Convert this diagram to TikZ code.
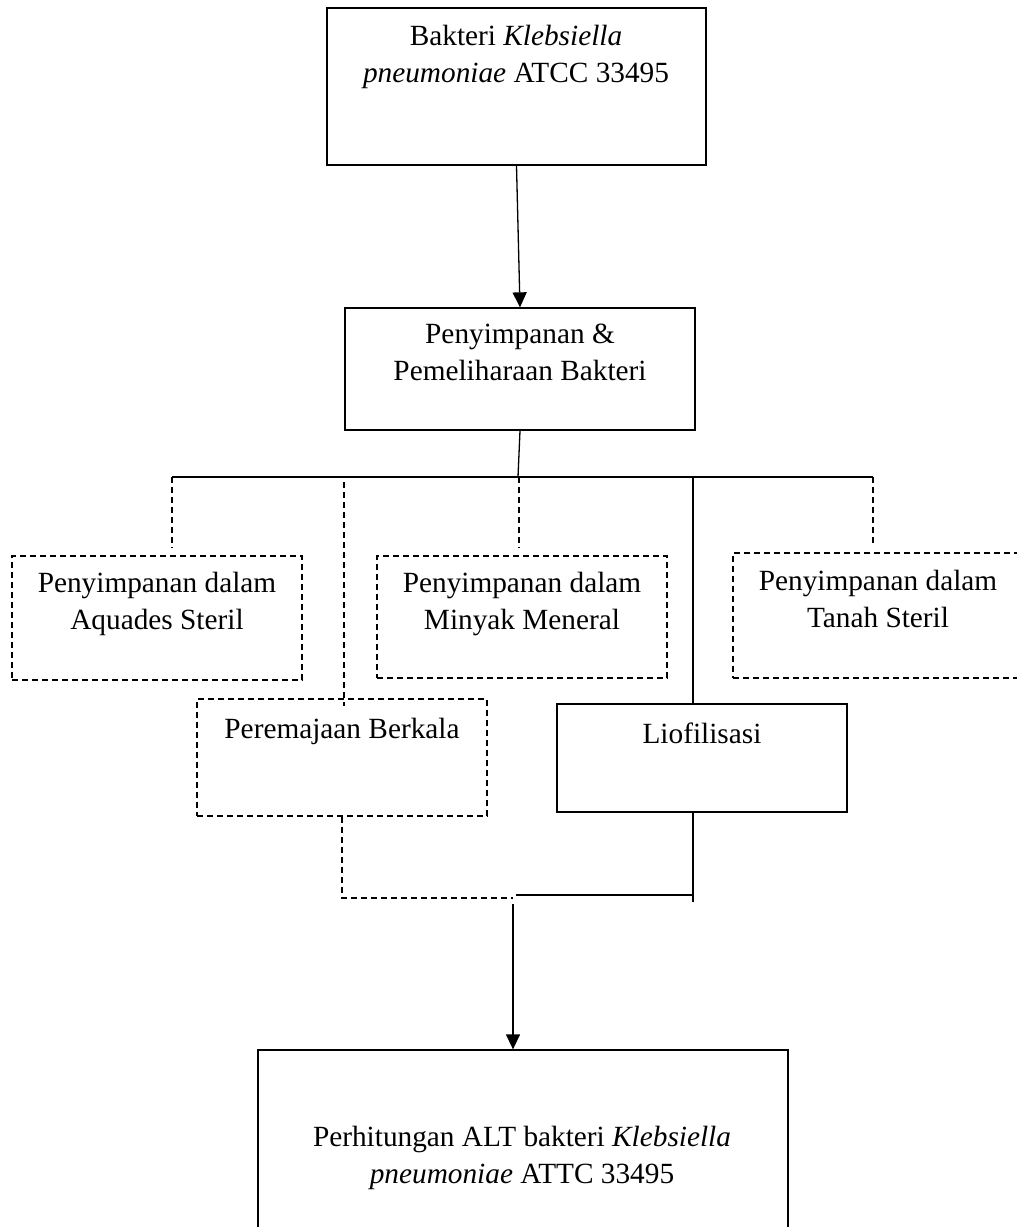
\documentclass[tikz,border=0pt]{standalone}
\usepackage{fontspec}
\setmainfont{Liberation Serif}
\usetikzlibrary{arrows.meta}

\tikzset{
  box/.style={draw, line width=1.3pt, inner sep=0pt},
  dbox/.style={box, dash pattern=on 6pt off 4pt},
  txt/.style={font=\fontsize{29.3}{36.5}\selectfont, align=center, anchor=base, inner sep=0pt},
  ln/.style={line width=1.3pt},
  dln/.style={ln, dash pattern=on 6pt off 4pt},
  arr/.style={ln, -{Triangle[length=15pt,width=14pt]}}
}

\begin{document}
\begin{tikzpicture}[x=1pt,y=-1pt]
    \useasboundingbox (0,0) rectangle (1017,1227);
    \clip (0,0) rectangle (1017,1227);

    % boxes
    \node[box, minimum width=379, minimum height=157] (bak) at (516.5,86.5) {};
    \node[box, minimum width=350, minimum height=122] (simpan) at (520,369) {};
    \node[dbox, minimum width=290, minimum height=124] (aqua) at (157,618) {};
    \node[dbox, minimum width=290, minimum height=122] (minyak) at (522,617) {};
    \node[dbox, minimum width=291, minimum height=125] (tanah) at (878.5,615.5) {};
    \node[dbox, minimum width=290, minimum height=117] (muda) at (342,757.5) {};
    \node[box, minimum width=290, minimum height=108] (lio) at (702,758) {};
    \node[box, minimum width=530, minimum height=210] (alt) at (523,1155) {};

    % texts (base = last line)
        \node[txt] (bakT) at (516,82) {Bakteri \textit{Klebsiella}\\\textit{pneumoniae} ATCC 33495};
        \node[txt] (simpanT) at (520,380) {Penyimpanan \&\\Pemeliharaan Bakteri};
        \node[txt] (aquaT) at (157,629) {Penyimpanan dalam\\Aquades Steril};
        \node[txt] (minyakT) at (522,629) {Penyimpanan dalam\\Minyak Meneral};
        \node[txt] (tanahT) at (878,627) {Penyimpanan dalam\\Tanah Steril};
        \node[txt] (mudaT) at (342,738) {Peremajaan Berkala};
        \node[txt] (lioT) at (702,743) {Liofilisasi};
        \node[txt] (altT) at (522,1183) {Perhitungan ALT bakteri \textit{Klebsiella}\\\textit{pneumoniae} ATTC 33495};

    % split
    \draw[arr] (bak.south) -- (simpan.north);
    \coordinate (bus) at (518,477);
    \coordinate (j1) at (172,477);
    \coordinate (j2) at (344,477);
    \coordinate (j3) at (519,477);
    \coordinate (j4) at (693,477);
    \coordinate (j5) at (873,477);
    \draw[ln] (simpan.south) -- (bus);
    \draw[ln] (j1) -- (j5);
    \draw[dln] (j1) -- ([yshift=8pt]aqua.north -| j1);
    \draw[dln] ([yshift=-5pt]j2) -- ([yshift=-8pt]muda.north -| j2);
    \draw[dln] (j3) -- ([yshift=8pt]minyak.north -| j3);
    \draw[ln] (j4) -- (j4 |- lio.north);
    \draw[dln] (j5) -- ([yshift=8pt]tanah.north -| j5);

    % merge
    \coordinate (m) at (513,898);
    \coordinate (n) at (516,895);
    \draw[dln] (muda.south) -- (muda.south |- m) -- (m);
    \draw[ln] (j4 |- lio.south) -- ([yshift=-7pt]j4 |- n);
    \draw[ln] (n) -- (j4 |- n);
    \draw[arr] ([yshift=-6pt]m) -- (m |- alt.north);

\end{tikzpicture}
\end{document}
